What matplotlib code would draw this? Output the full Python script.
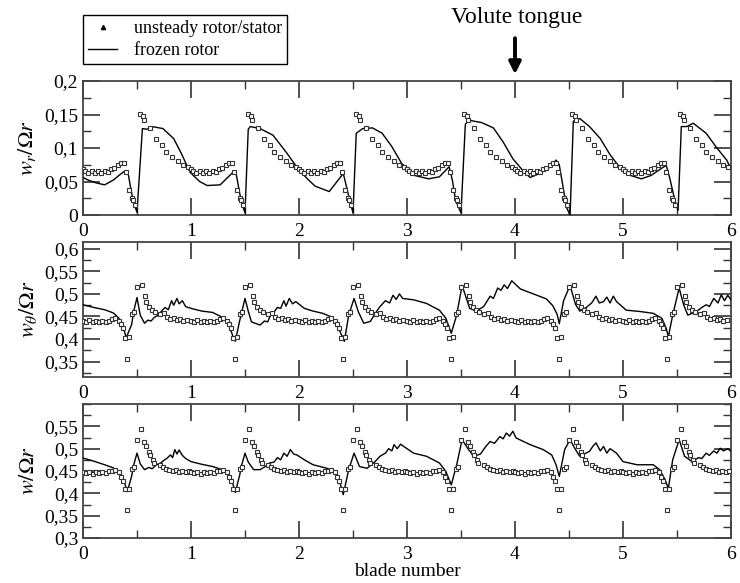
import numpy as np
import matplotlib
matplotlib.use("Agg")
import matplotlib.pyplot as plt
from matplotlib.ticker import FixedLocator, MultipleLocator, FuncFormatter
from matplotlib.lines import Line2D

plt.rcParams['font.family'] = ['Liberation Serif', 'DejaVu Serif']
plt.rcParams['mathtext.fontset'] = 'stix'

blades = [0, 1, 2, 3, 4, 5]

# --- unsteady rotor/stator: profile over one blade passage (offset in blade, value)
top_off = [0.00, 0.02, 0.05, 0.08, 0.11, 0.14, 0.17, 0.20, 0.23, 0.26, 0.29, 0.32, 0.35, 0.38,
           0.40, 0.43, 0.45, 0.46, 0.48, 0.53, 0.56, 0.565, 0.62, 0.68, 0.73, 0.77, 0.82, 0.88,
           0.93, 0.97]
top_val = [0.068, 0.065, 0.063, 0.065, 0.063, 0.065, 0.062, 0.066, 0.064, 0.068, 0.070, 0.074,
           0.078, 0.078, 0.064, 0.037, 0.026, 0.022, 0.015, 0.151, 0.148, 0.142, 0.130, 0.114,
           0.104, 0.094, 0.087, 0.080, 0.075, 0.071]

mid_off = [0.00, 0.03, 0.06, 0.09, 0.12, 0.15, 0.18, 0.21, 0.24, 0.27, 0.30, 0.33, 0.35, 0.37,
           0.39, 0.405, 0.43, 0.45, 0.47, 0.50, 0.545, 0.57, 0.58, 0.61, 0.64, 0.67, 0.71, 0.75,
           0.78, 0.81, 0.84, 0.87, 0.90, 0.93, 0.96]
mid_val = [0.440, 0.438, 0.442, 0.437, 0.440, 0.438, 0.440, 0.437, 0.441, 0.444, 0.446, 0.441,
           0.434, 0.424, 0.403, 0.356, 0.405, 0.455, 0.461, 0.516, 0.519, 0.496, 0.482, 0.470,
           0.464, 0.459, 0.455, 0.457, 0.448, 0.444, 0.447, 0.442, 0.445, 0.441, 0.442]

bot_off = [0.00, 0.03, 0.06, 0.09, 0.12, 0.15, 0.18, 0.21, 0.24, 0.27, 0.30, 0.33, 0.35, 0.37,
           0.39, 0.405, 0.43, 0.45, 0.47, 0.50, 0.54, 0.565, 0.58, 0.61, 0.62, 0.65, 0.66, 0.71,
           0.74, 0.77, 0.80, 0.83, 0.86, 0.89, 0.92, 0.95, 0.98]
bot_val = [0.447, 0.445, 0.448, 0.444, 0.447, 0.445, 0.447, 0.445, 0.449, 0.451, 0.453, 0.447,
           0.437, 0.427, 0.410, 0.362, 0.410, 0.455, 0.460, 0.519, 0.544, 0.515, 0.505, 0.492,
           0.485, 0.475, 0.468, 0.464, 0.460, 0.455, 0.452, 0.450, 0.452, 0.448, 0.450, 0.447,
           0.449]

# --- frozen rotor
top_x = [0.00, 0.05, 0.12, 0.20, 0.28, 0.34, 0.39, 0.42, 0.45, 0.47, 0.50, 0.55, 0.59, 0.64,
         0.74, 0.84, 0.91, 0.99, 1.08, 1.15, 1.27, 1.39, 1.42, 1.45, 1.47, 1.50, 1.53, 1.55,
         1.64, 1.76, 1.88, 2.00, 2.09, 2.15, 2.28, 2.41, 2.44, 2.47, 2.50, 2.53, 2.59, 2.68,
         2.77, 2.86, 2.95, 3.07, 3.20, 3.30, 3.39, 3.42, 3.45, 3.50, 3.54, 3.57, 3.62, 3.69,
         3.80, 3.89, 3.98, 4.08, 4.14, 4.23, 4.32, 4.38, 4.41, 4.45, 4.48, 4.51, 4.54, 4.60,
         4.69, 4.79, 4.88, 4.98, 5.07, 5.17, 5.26, 5.35, 5.40, 5.43, 5.48, 5.51, 5.54, 5.59,
         5.65, 5.77, 5.86, 5.96, 6.00]
top_y = [0.056, 0.052, 0.048, 0.045, 0.052, 0.060, 0.066, 0.060, 0.033, 0.018, 0.004, 0.129,
         0.128, 0.132, 0.129, 0.114, 0.092, 0.064, 0.050, 0.044, 0.045, 0.064, 0.060, 0.033,
         0.018, 0.003, 0.128, 0.132, 0.129, 0.119, 0.094, 0.067, 0.052, 0.043, 0.035, 0.062,
         0.042, 0.022, 0.003, 0.122, 0.129, 0.130, 0.122, 0.102, 0.077, 0.059, 0.054, 0.057,
         0.072, 0.052, 0.022, 0.003, 0.135, 0.142, 0.140, 0.138, 0.130, 0.109, 0.084, 0.065,
         0.056, 0.062, 0.071, 0.082, 0.075, 0.037, 0.010, 0.000, 0.140, 0.144, 0.132, 0.114,
         0.090, 0.069, 0.059, 0.054, 0.059, 0.069, 0.074, 0.057, 0.022, 0.007, 0.132, 0.132,
         0.137, 0.122, 0.102, 0.082, 0.069]

mid_x = [0.00, 0.10, 0.20, 0.28, 0.33, 0.37, 0.40, 0.45, 0.47, 0.50, 0.53, 0.57, 0.60, 0.63,
         0.66, 0.70, 0.73, 0.76, 0.79, 0.82, 0.84, 0.87, 0.89, 0.92, 0.95, 1.00, 1.10, 1.20,
         1.30, 1.35, 1.39, 1.41, 1.45, 1.47, 1.50, 1.53, 1.56, 1.64, 1.68, 1.71, 1.74, 1.77,
         1.80, 1.83, 1.86, 1.88, 1.91, 1.94, 1.97, 2.05, 2.13, 2.22, 2.29, 2.35, 2.40, 2.42,
         2.46, 2.51, 2.55, 2.60, 2.66, 2.72, 2.75, 2.80, 2.84, 2.87, 2.90, 2.93, 2.96, 3.06,
         3.18, 3.30, 3.36, 3.41, 3.46, 3.51, 3.55, 3.58, 3.64, 3.71, 3.77, 3.80, 3.84, 3.87,
         3.90, 3.93, 3.97, 4.05, 4.17, 4.29, 4.35, 4.39, 4.41, 4.45, 4.51, 4.56, 4.60, 4.66,
         4.71, 4.75, 4.78, 4.82, 4.85, 4.88, 4.91, 4.94, 5.03, 5.16, 5.28, 5.36, 5.40, 5.42,
         5.46, 5.52, 5.56, 5.60, 5.68, 5.73, 5.77, 5.80, 5.84, 5.88, 5.91, 5.94, 5.97, 6.00]
mid_y = [0.476, 0.470, 0.465, 0.458, 0.447, 0.428, 0.403, 0.432, 0.462, 0.492, 0.453, 0.435,
         0.442, 0.440, 0.448, 0.453, 0.463, 0.470, 0.465, 0.485, 0.475, 0.490, 0.478, 0.485,
         0.472, 0.468, 0.462, 0.459, 0.447, 0.432, 0.405, 0.395, 0.440, 0.460, 0.490, 0.462,
         0.438, 0.431, 0.440, 0.438, 0.455, 0.460, 0.470, 0.468, 0.485, 0.473, 0.490, 0.478,
         0.483, 0.468, 0.462, 0.457, 0.450, 0.432, 0.406, 0.395, 0.453, 0.490, 0.460, 0.435,
         0.439, 0.462, 0.472, 0.485, 0.480, 0.497, 0.488, 0.500, 0.490, 0.487, 0.479, 0.464,
         0.446, 0.413, 0.453, 0.519, 0.490, 0.468, 0.462, 0.472, 0.495, 0.490, 0.513, 0.508,
         0.520, 0.512, 0.529, 0.511, 0.500, 0.489, 0.474, 0.455, 0.434, 0.485, 0.519, 0.477,
         0.462, 0.470, 0.480, 0.495, 0.480, 0.483, 0.493, 0.480, 0.495, 0.483, 0.464, 0.461,
         0.457, 0.446, 0.424, 0.405, 0.453, 0.513, 0.477, 0.453, 0.461, 0.470, 0.476, 0.472,
         0.490, 0.480, 0.498, 0.485, 0.497, 0.487]

bot_x = [0.00, 0.10, 0.20, 0.28, 0.33, 0.37, 0.41, 0.45, 0.47, 0.50, 0.53, 0.57, 0.61, 0.64,
         0.68, 0.72, 0.75, 0.78, 0.81, 0.83, 0.85, 0.87, 0.89, 0.92, 0.95, 1.00, 1.10, 1.20,
         1.30, 1.35, 1.38, 1.41, 1.45, 1.47, 1.50, 1.53, 1.58, 1.64, 1.70, 1.73, 1.77, 1.80,
         1.83, 1.86, 1.89, 1.92, 1.95, 1.98, 2.05, 2.13, 2.26, 2.34, 2.38, 2.41, 2.46, 2.51,
         2.56, 2.63, 2.70, 2.75, 2.80, 2.83, 2.86, 2.88, 2.91, 2.94, 2.97, 3.06, 3.18, 3.30,
         3.36, 3.41, 3.46, 3.51, 3.57, 3.62, 3.68, 3.73, 3.77, 3.81, 3.86, 3.89, 3.92, 3.95,
         3.98, 4.01, 4.14, 4.26, 4.34, 4.38, 4.41, 4.46, 4.51, 4.56, 4.60, 4.69, 4.72, 4.75,
         4.79, 4.82, 4.85, 4.88, 4.91, 4.94, 5.00, 5.13, 5.28, 5.34, 5.39, 5.42, 5.46, 5.52,
         5.57, 5.64, 5.70, 5.73, 5.77, 5.80, 5.84, 5.87, 5.90, 5.93, 5.97, 6.00]
bot_y = [0.479, 0.472, 0.464, 0.457, 0.449, 0.435, 0.404, 0.438, 0.464, 0.490, 0.466, 0.453,
         0.458, 0.455, 0.464, 0.468, 0.474, 0.479, 0.486, 0.480, 0.498, 0.488, 0.497, 0.485,
         0.478, 0.471, 0.465, 0.460, 0.452, 0.440, 0.428, 0.402, 0.440, 0.464, 0.490, 0.470,
         0.453, 0.453, 0.462, 0.468, 0.470, 0.480, 0.475, 0.490, 0.483, 0.498, 0.488, 0.486,
         0.475, 0.464, 0.456, 0.445, 0.423, 0.397, 0.453, 0.490, 0.460, 0.456, 0.470, 0.483,
         0.490, 0.500, 0.495, 0.509, 0.500, 0.510, 0.505, 0.490, 0.483, 0.468, 0.449, 0.419,
         0.464, 0.520, 0.498, 0.483, 0.488, 0.505, 0.516, 0.512, 0.527, 0.522, 0.535, 0.528,
         0.539, 0.524, 0.509, 0.498, 0.486, 0.464, 0.438, 0.498, 0.520, 0.498, 0.483, 0.494,
         0.505, 0.513, 0.495, 0.505, 0.490, 0.500, 0.495, 0.490, 0.471, 0.464, 0.464, 0.453,
         0.430, 0.411, 0.475, 0.520, 0.483, 0.471, 0.480, 0.478, 0.490, 0.485, 0.495, 0.490,
         0.501, 0.495, 0.500, 0.494]


def comma(v, pos):
    return ('%g' % round(v, 4)).replace('.', ',')


fig = plt.figure(figsize=(7.4, 5.83), dpi=100)
left, width = 83 / 740, 648 / 740
ax1 = fig.add_axes([left, 1 - 215 / 583, width, 134 / 583])
ax2 = fig.add_axes([left, 1 - 377 / 583, width, 135 / 583])
ax3 = fig.add_axes([left, 1 - 538 / 583, width, 134 / 583])

panels = [
    (ax1, top_off, top_val, top_x, top_y, (0, 0.2), [0, 0.05, 0.1, 0.15, 0.2], r'$w_r/\Omega r$'),
    (ax2, mid_off, mid_val, mid_x, mid_y, (0.316, 0.615), [0.35, 0.4, 0.45, 0.5, 0.55, 0.6],
     r'$w_\theta/\Omega r$'),
    (ax3, bot_off, bot_val, bot_x, bot_y, (0.3, 0.6), [0.3, 0.35, 0.4, 0.45, 0.5, 0.55],
     r'$w/\Omega r$'),
]

for ax, off, val, lx, ly, ylim, yticks, ylab in panels:
    mx = np.concatenate([np.array(off) + b for b in blades])
    my = np.tile(val, len(blades))
    ax.plot(lx, ly, color='black', lw=1.0, zorder=3)
    ax.plot(mx, my, ls='none', marker='s', ms=3.2, mfc='white', mec='#333333', mew=0.8,
            zorder=4)
    ax.set_xlim(0, 6)
    ax.set_ylim(*ylim)
    ax.xaxis.set_major_locator(MultipleLocator(1))
    ax.xaxis.set_minor_locator(MultipleLocator(0.5))
    ax.yaxis.set_major_locator(FixedLocator(yticks))
    ax.yaxis.set_minor_locator(MultipleLocator(0.025))
    ax.yaxis.set_major_formatter(FuncFormatter(comma))
    ax.tick_params(which='both', direction='in', top=True, right=True, labelsize=14,
                   color='#333333')
    ax.tick_params(which='major', length=12, width=1.2)
    ax.tick_params(which='minor', length=6, width=1.0)
    ax.tick_params(axis='x', pad=6)
    for s in ax.spines.values():
        s.set_linewidth(1.3)
        s.set_color('#444444')
    ax.set_ylabel(ylab, fontsize=16, labelpad=4)

ax3.set_xlabel('blade number', fontsize=14, labelpad=0)

handles = [
    Line2D([], [], ls='none', marker='^', ms=3, mfc='black', mec='black'),
    Line2D([], [], color='black', lw=1.0),
]
leg = fig.legend(handles, ['unsteady rotor/stator', 'frozen rotor'], loc='upper left',
                 bbox_to_anchor=(83 / 740, 1 - 15 / 583), borderaxespad=0, fontsize=13,
                 frameon=True, fancybox=False, edgecolor='black', framealpha=1,
                 handlelength=1.6, handletextpad=0.9, labelspacing=0.25, borderpad=0.3)
leg.get_frame().set_linewidth(1.0)

# Volute tongue arrow above blade 4
ax1.annotate('', xy=(4, 1.03), xycoords=('data', 'axes fraction'),
             xytext=(4, 1.34), textcoords=('data', 'axes fraction'),
             arrowprops=dict(arrowstyle='-|>,head_width=0.35,head_length=0.7', lw=2.8,
                             color='black'), annotation_clip=False)
fig.text(517 / 740, 1 - 18 / 583, 'Volute tongue', fontsize=17, ha='center', va='center')

fig.savefig('out.png', dpi=100)
